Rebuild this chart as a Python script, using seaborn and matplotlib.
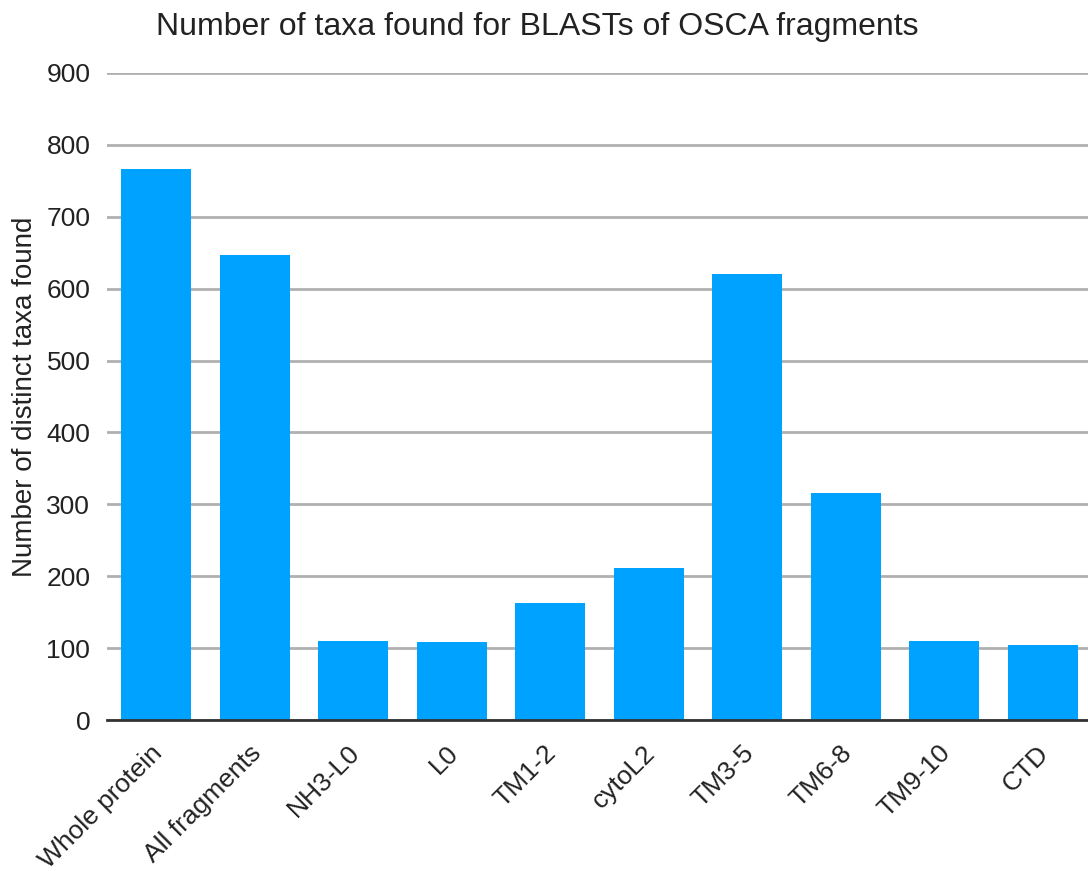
import matplotlib
matplotlib.use("Agg")
import matplotlib.pyplot as plt
import matplotlib.transforms as mtransforms
import seaborn as sns
import pandas as pd

categories = ["Whole protein", "All fragments", "NH3-L0", "L0", "TM1-2",
              "cytoL2", "TM3-5", "TM6-8", "TM9-10", "CTD"]
taxa_counts = [767, 647, 110, 108, 163, 211, 620, 316, 110, 105]
y_ticks = [0, 100, 200, 300, 400, 500, 600, 700, 800, 900]

sns.set_theme(style="white")
plt.rcParams["font.family"] = ["Liberation Sans", "DejaVu Sans"]

df = pd.DataFrame({"fragment": categories, "taxa": taxa_counts})

fig = plt.figure(figsize=(10.88, 8.71), dpi=100)
# plot area runs slightly past the right edge of the canvas
ax = fig.add_axes([107 / 1088, 1 - 720 / 871, (1092 - 107) / 1088, (720 - 73) / 871])

sns.barplot(data=df, x="fragment", y="taxa", color="#00A2FF", saturation=1,
            width=0.71, linewidth=0, ax=ax, zorder=3)

ax.set_ylim(0, 900)
ax.set_xlim(-0.5, len(categories) - 0.5)
ax.set_yticks(y_ticks)
ax.set_yticklabels([str(t) for t in y_ticks], fontsize=19, color="#222222")
ax.yaxis.grid(True, color="#b0b0b0", linewidth=2, zorder=0)
ax.set_axisbelow(True)
for side in ["top", "right", "left"]:
    ax.spines[side].set_visible(False)
ax.spines["bottom"].set_color("#333333")
ax.spines["bottom"].set_linewidth(2)
ax.spines["bottom"].set_zorder(4)
ax.tick_params(axis="y", length=0, pad=12)
ax.tick_params(axis="x", length=0, pad=15)

ax.set_xticks(range(len(categories)))
ax.set_xticklabels(categories, rotation=45, ha="right", rotation_mode="anchor",
                   fontsize=19, color="#222222")
shift = mtransforms.ScaledTranslation(-6 / 100, 0, fig.dpi_scale_trans)
for lbl in ax.get_xticklabels():
    lbl.set_transform(lbl.get_transform() + shift)

ax.set_xlabel("")
ax.set_ylabel("Number of distinct taxa found", fontsize=20, color="#222222", labelpad=6)
fig.text(537 / 1088, 1 - 27 / 871, "Number of taxa found for BLASTs of OSCA fragments",
         ha="center", va="center", fontsize=23, color="#222222")

fig.savefig("out.png", dpi=100)
